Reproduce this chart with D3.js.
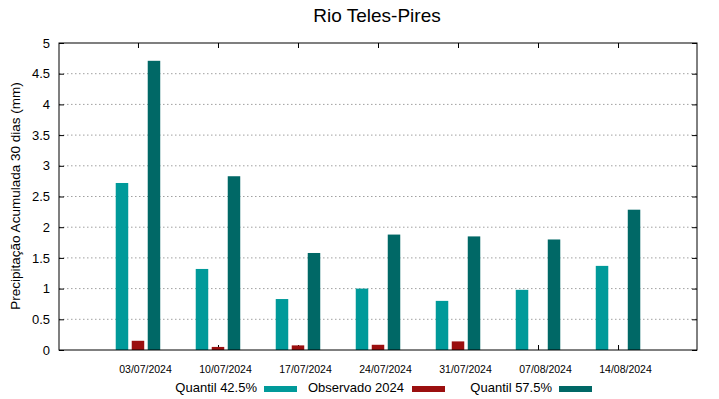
<html>
<head>
  <meta charset="utf-8">
  <title>Rio Teles-Pires</title>
  <script src="https://cdnjs.cloudflare.com/ajax/libs/d3/7.8.5/d3.min.js"></script>
  <style>
    body { margin: 0; background: #fff; }
    text { font-family: "Liberation Sans", Arial, sans-serif; fill: #000; }
  </style>
</head>
<body>
  <svg></svg>
  <script>
var dates = ["03/07/2024", "10/07/2024", "17/07/2024", "24/07/2024", "31/07/2024", "07/08/2024", "14/08/2024"];
var q425 = [2.72, 1.32, 0.83, 1.00, 0.80, 0.98, 1.37];
var obs = [0.15, 0.05, 0.075, 0.085, 0.14, null, null];
var q575 = [4.71, 2.83, 1.58, 1.88, 1.85, 1.80, 2.285];
var yTicks = [0, 0.5, 1, 1.5, 2, 2.5, 3, 3.5, 4, 4.5, 5];
var seriesNames = ["Quantil 42.5%", "Observado 2024", "Quantil 57.5%"];
var colors = ["#009a9a", "#9b0f0f", "#006866"];

var w = 719, h = 399;
var margin = {left: 59, right: 22, top: 43, bottom: 49};
var svg = d3.select("svg").attr("width", w).attr("height", h);

var parse = d3.timeParse("%d/%m/%Y");
var fmt = d3.timeFormat("%d/%m/%Y");
var dd = dates.map(parse);
var pad = 6.91 * 864e5;

var x = d3.scaleTime()
  .domain([new Date(+dd[0] - pad), new Date(+dd[dd.length - 1] + pad)])
  .range([margin.left, w - margin.right]);
var y = d3.scaleLinear()
  .domain([0, 5])
  .range([h - margin.bottom, margin.top]);

var x0 = margin.left, x1 = w - margin.right, y0 = h - margin.bottom, y1 = margin.top;

// grid
svg.append("g").selectAll("line")
  .data(yTicks.filter(function(d) { return d > 0 && d < 5; }))
  .enter().append("line")
  .attr("x1", x0).attr("x2", x1)
  .attr("y1", function(d) { return y(d); }).attr("y2", function(d) { return y(d); })
  .attr("stroke", "#a0a0a0").attr("stroke-width", 1).attr("stroke-dasharray", "1.5,2.5");

// axes (gnuplot style: inward ticks, mirrored) - drawn under the bars
var yl = svg.append("g").attr("transform", "translate(" + x0 + ",0)")
  .call(d3.axisLeft(y).tickValues(yTicks).tickSizeInner(-5).tickSizeOuter(0).tickPadding(9)
    .tickFormat(function(d) { return d; }));
var yr = svg.append("g").attr("transform", "translate(" + x1 + ",0)")
  .call(d3.axisRight(y).tickValues(yTicks).tickSizeInner(-5).tickSizeOuter(0).tickFormat(""));
var xb = svg.append("g").attr("transform", "translate(0," + y0 + ")")
  .call(d3.axisBottom(x).tickValues(dd).tickSizeInner(-5).tickSizeOuter(0).tickPadding(16).tickFormat(fmt));
var xt = svg.append("g").attr("transform", "translate(0," + y1 + ")")
  .call(d3.axisTop(x).tickValues(dd).tickSizeInner(-5).tickSizeOuter(0).tickFormat(""));
[yl, yr, xb, xt].forEach(function(g) {
  g.select(".domain").remove();
  g.selectAll("line").attr("stroke", "#000");
});
yl.selectAll("text").attr("font-size", 13).attr("font-family", "Liberation Sans, Arial, sans-serif");
xb.selectAll("text").attr("font-size", 10.5).attr("dx", 7).attr("font-family", "Liberation Sans, Arial, sans-serif");

// bars
var barW = 12.5;
var offs = [-16, 0, 16];
[q425, obs, q575].forEach(function(s, k) {
  svg.append("g").selectAll("rect")
    .data(s.map(function(v, i) { return {v: v, d: dd[i]}; }).filter(function(o) { return o.v != null; }))
    .enter().append("rect")
    .attr("x", function(o) { return x(o.d) + offs[k] - barW / 2; })
    .attr("y", function(o) { return y(o.v); })
    .attr("width", barW)
    .attr("height", function(o) { return y(0) - y(o.v); })
    .attr("fill", colors[k]);
});

svg.append("rect").attr("x", x0).attr("y", y1).attr("width", x1 - x0).attr("height", y0 - y1)
  .attr("fill", "none").attr("stroke", "#000").attr("stroke-width", 1);

// title and label
svg.append("text").attr("x", 377).attr("y", 22).attr("text-anchor", "middle")
  .attr("font-size", 19).text("Rio Teles-Pires");
svg.append("text").attr("transform", "translate(20,196) rotate(-90)").attr("text-anchor", "middle")
  .attr("font-size", 13.5).text("Precipitação Acumulada 30 dias (mm)");

// legend
var legTextEnd = [257, 404, 552];
var legSample = [264, 412, 559];
seriesNames.forEach(function(n, k) {
  svg.append("text").attr("x", legTextEnd[k]).attr("y", 392).attr("text-anchor", "end")
    .attr("font-size", 13).text(n);
  svg.append("rect").attr("x", legSample[k]).attr("y", 386).attr("width", 33).attr("height", 6)
    .attr("fill", colors[k]);
});
  </script>
</body>
</html>
